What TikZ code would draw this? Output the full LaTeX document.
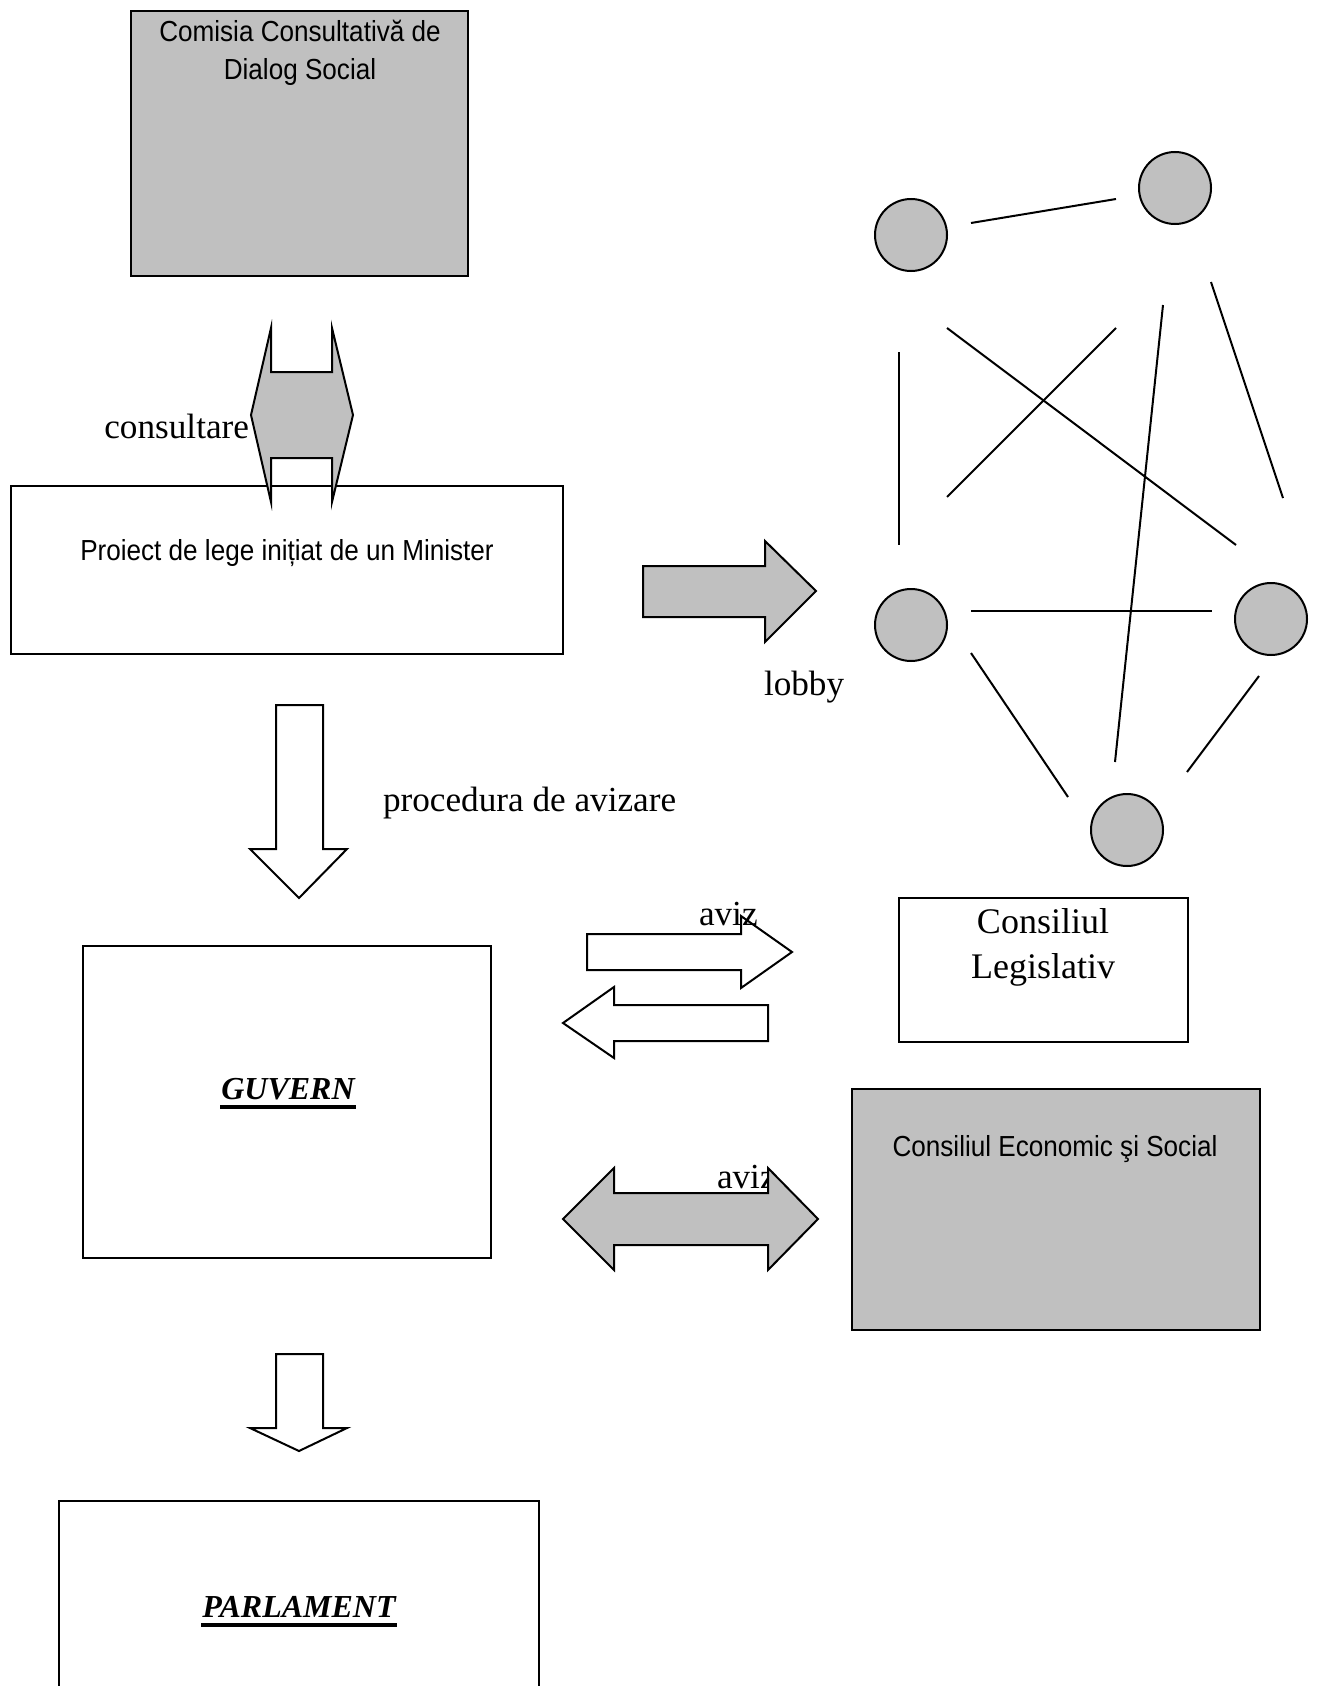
\documentclass[tikz,border=0pt]{standalone}
\usepackage{fontspec}
\setmainfont{Liberation Serif}
\newfontfamily\labelsans[FakeStretch=0.90]{Liberation Sans}
\definecolor{silver}{HTML}{C0C0C0}
\begin{document}
\begin{tikzpicture}[x=0.5pt,y=-0.5pt,line width=1pt,line join=miter,
  box/.style={draw=black,rectangle,inner sep=0pt,fill=white},
  greybox/.style={box,fill=silver},
  blockarrow/.style={draw=black,fill=white},
  greyarrow/.style={draw=black,fill=silver},
  dot/.style={circle,draw=black,fill=silver,minimum size=36pt,inner sep=0pt},
  link/.style={draw=black,line width=1pt},
  sanstext/.style={inner sep=0pt,align=center,font={\labelsans\fontsize{14.5pt}{19pt}\selectfont}},
  serifnote/.style={inner sep=0pt,font={\fontsize{17.6pt}{21pt}\selectfont}},
  council/.style={inner sep=0pt,align=center,font={\fontsize{18pt}{22.5pt}\selectfont}},
  institution/.style={inner sep=0pt,font={\fontsize{16pt}{19pt}\selectfont\bfseries\itshape}},
  underbar/.style={line width=2pt}]
\clip (0,0) rectangle (1319,1686);
\fill[white] (0,0) rectangle (1319,1686);

% --- boxes ---
\node[greybox,minimum width=168.5pt,minimum height=132.5pt] (ccds) at (299.5,143.5) {};
\node[box,minimum width=276pt,minimum height=84pt] (proiect) at (287,570) {};
\node[box,minimum width=204pt,minimum height=156pt] (guvern) at (287,1102) {};
\node[box,minimum width=240pt,minimum height=109.5pt] (parlament) at (299,1610.5) {};
\node[box,minimum width=144.5pt,minimum height=72pt] (cl) at (1043.5,970) {};
\node[greybox,minimum width=204pt,minimum height=120.5pt] (ces) at (1055.5,1209.5) {};

% --- box texts (a multi-line node sits on the baseline of its last line) ---
\node[sanstext,anchor=base] (ccdstxt) at (300,80) {Comisia Consultativă de\\Dialog Social};
\node[sanstext,anchor=base] (proiecttxt) at (287,560) {Proiect de lege inițiat de un Minister};
\node[sanstext,anchor=base] (cestxt) at (1055,1156) {Consiliul Economic şi Social};
\node[council,anchor=base] (cltxt1) at (1043,933) {Consiliul};
\node[council,anchor=base] (cltxt2) at (1043,978) {Legislativ};
\node[institution,anchor=base] (guverntxt) at (288,1099) {GUVERN};
\draw[underbar] ([yshift=-4pt]guverntxt.base west) -- ([yshift=-4pt]guverntxt.base east);
\node[institution,anchor=base] (parltxt) at (299,1617) {PARLAMENT};
\draw[underbar] ([yshift=-4pt]parltxt.base west) -- ([yshift=-4pt]parltxt.base east);

% --- consultation arrow between the commission and the draft ---
\node[serifnote,anchor=base east] (consultare) at (250,438) {consultare};
\draw[greyarrow] (271,328) -- (271,372) -- (332,372) -- (332,328) -- (353,415)
  -- (332,502) -- (332,458) -- (271,458) -- (271,502) -- (251,415) -- cycle;

% --- lobby arrow ---
\draw[greyarrow] (643,566) -- (765,566) -- (765,541) -- (816,591) -- (765,642)
  -- (765,617) -- (643,617) -- cycle;
\node[serifnote,anchor=base west] (lobby) at (763,695) {lobby};

% --- approval procedure arrow ---
\draw[blockarrow] (276,705) -- (323,705) -- (323,849) -- (347,849) -- (299,898)
  -- (250,849) -- (276,849) -- cycle;
\node[serifnote,anchor=base west] (procedura) at (382,811) {procedura de avizare};

% --- exchange with the Legislative Council ---
\draw[blockarrow] (587,934) -- (741,934) -- (741,916) -- (792,952) -- (741,988)
  -- (741,970) -- (587,970) -- cycle;
\node[serifnote,anchor=base west] (aviz1) at (698,925) {aviz};
\draw[blockarrow] (768,1005) -- (614,1005) -- (614,987) -- (563,1023) -- (614,1058)
  -- (614,1041) -- (768,1041) -- cycle;

% --- exchange with the Economic and Social Council ---
\node[serifnote,anchor=base west] (aviz2) at (716,1188) {aviz};
\draw[greyarrow] (563,1219) -- (614,1168) -- (614,1193) -- (768,1193) -- (768,1168)
  -- (818,1219) -- (768,1270) -- (768,1245) -- (614,1245) -- (614,1270) -- cycle;

% --- government to parliament ---
\draw[blockarrow] (276,1354) -- (323,1354) -- (323,1428) -- (347,1428) -- (299,1451)
  -- (250,1428) -- (276,1428) -- cycle;

% --- lobby network ---
\node[dot] (n1) at (911,235) {};
\node[dot] (n2) at (1175,188) {};
\node[dot] (n3) at (911,625) {};
\node[dot] (n4) at (1271,619) {};
\node[dot] (n5) at (1127,830) {};

\coordinate (a1) at (971,223);  \coordinate (b1) at (1116,199);
\coordinate (a2) at (899,352);  \coordinate (b2) at (899,545);
\coordinate (a3) at (947,328);  \coordinate (b3) at (1236,545);
\coordinate (a4) at (1116,328); \coordinate (b4) at (947,497);
\coordinate (a5) at (1163,305); \coordinate (b5) at (1115,762);
\coordinate (a6) at (1211,282); \coordinate (b6) at (1283,498);
\coordinate (a7) at (971,611);  \coordinate (b7) at (1212,611);
\coordinate (a8) at (971,653);  \coordinate (b8) at (1068,797);
\coordinate (a9) at (1259,676); \coordinate (b9) at (1187,772);
\foreach \k in {1,...,9} {\draw[link] (a\k) -- (b\k);}
\end{tikzpicture}
\end{document}
